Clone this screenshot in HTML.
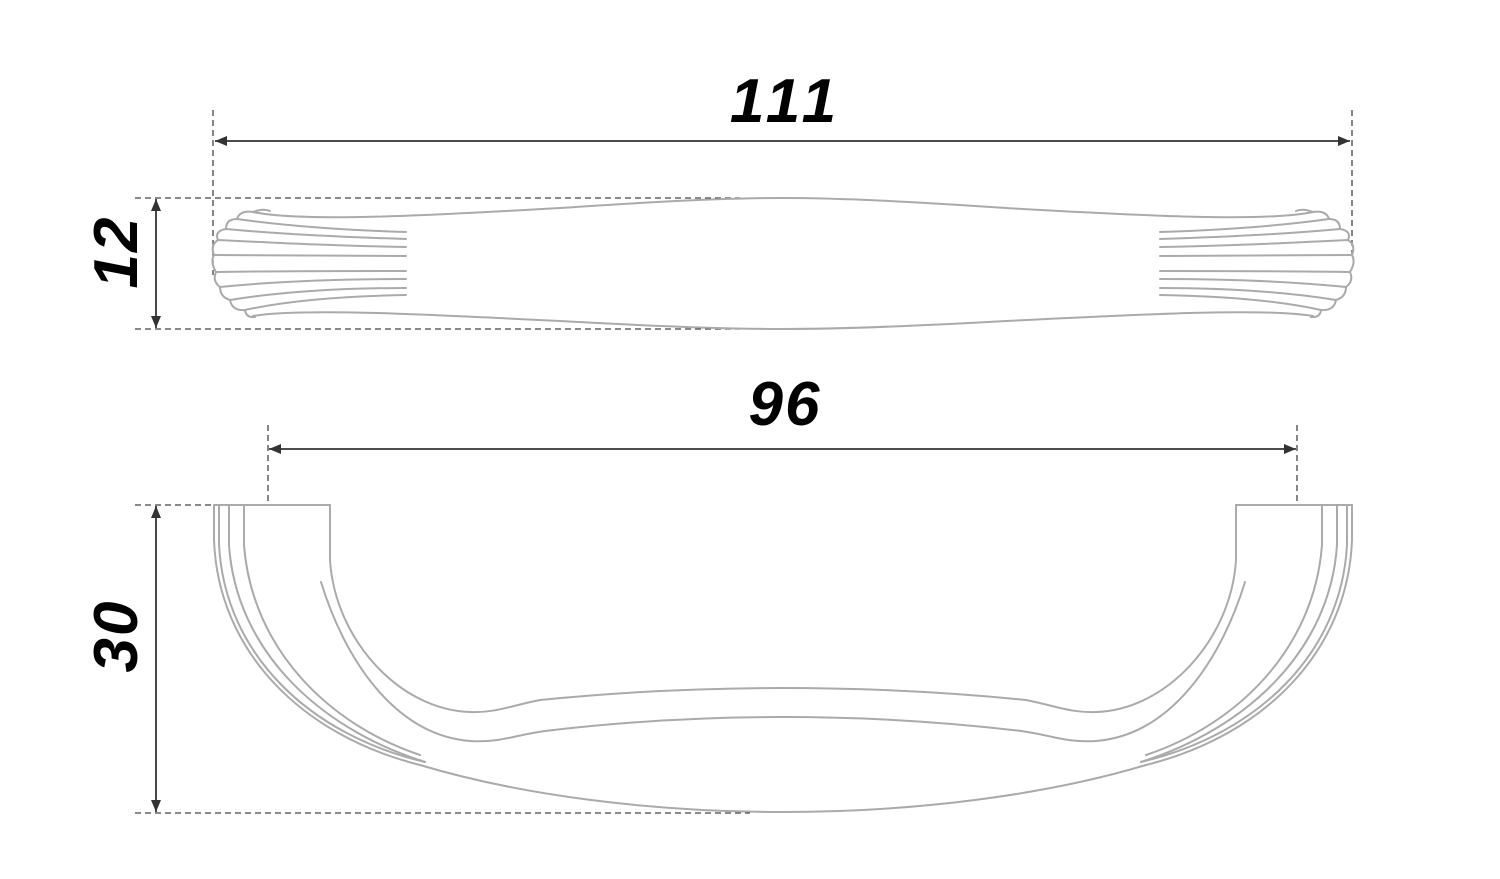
<!DOCTYPE html>
<html><head><meta charset="utf-8"><style>
html,body{margin:0;padding:0;background:#fff;width:1500px;height:879px;overflow:hidden}
text{font-family:"Liberation Sans",sans-serif;font-weight:bold;font-style:italic;fill:#000}
</style></head><body>
<svg width="1500" height="879" viewBox="0 0 1500 879" xmlns="http://www.w3.org/2000/svg">
<defs>
<marker id="a" viewBox="0 0 12 10" refX="12" refY="5" markerWidth="12" markerHeight="10" markerUnits="userSpaceOnUse" orient="auto-start-reverse"><path d="M0,0 L12,5 L0,10 z" fill="#333"/></marker>
</defs>
<g stroke="#444" stroke-width="1.3" stroke-dasharray="6,4" fill="none">
<line x1="213" y1="110" x2="213" y2="275"/>
<line x1="1352" y1="110" x2="1352" y2="260"/>
<line x1="135" y1="198" x2="740" y2="198"/>
<line x1="135" y1="329" x2="740" y2="329"/>
<line x1="268" y1="425" x2="268" y2="503"/>
<line x1="1297" y1="425" x2="1297" y2="503"/>
<line x1="135" y1="505" x2="214" y2="505"/>
<line x1="135" y1="813" x2="750" y2="813"/>
</g>
<g stroke="#333" stroke-width="1.8" fill="none">
<line x1="215" y1="141" x2="1350" y2="141" marker-start="url(#a)" marker-end="url(#a)"/>
<line x1="156" y1="199" x2="156" y2="328" marker-start="url(#a)" marker-end="url(#a)"/>
<line x1="269" y1="449" x2="1296" y2="449" marker-start="url(#a)" marker-end="url(#a)"/>
<line x1="156" y1="506" x2="156" y2="812" marker-start="url(#a)" marker-end="url(#a)"/>
</g>
<text x="786" y="122" font-size="62" text-anchor="middle" letter-spacing="6">111</text>
<text x="785" y="425" font-size="62" text-anchor="middle" letter-spacing="2">96</text>
<text transform="translate(137,252) rotate(-90)" font-size="62" text-anchor="middle" letter-spacing="2">12</text>
<text transform="translate(137,636) rotate(-90)" font-size="62" text-anchor="middle" letter-spacing="2">30</text>

<g stroke="#aaa" stroke-width="2" fill="none" stroke-linecap="round">
<path d="M253,212 C300,222 420,216 560,208 C650,202 720,198 783,198 C846,198 916,202 1006,208 C1146,216 1266,222 1313,212"/>
<path d="M253,316 C300,308 420,314 560,321 C650,326 720,329 783,329 C846,329 916,326 1006,321 C1146,314 1266,308 1313,316"/>
<g id="fan">
<path d="M253,212 Q263,208 270,211 M237,219 Q240,210 253,212 M226,229 Q226,219 237,219 M218,240 Q214,231 226,229 M214,255 Q210,245 218,240 M216,272 Q210,262 214,255 M220,287 Q212,281 216,272 M230,300 Q220,297 220,287 M245,310 Q232,311 230,300 M255,317 Q246,318 245,310"/>
<path d="M237,219 C280,225 340,230 406,232"/>
<path d="M226,229 C280,234 340,237 406,239"/>
<path d="M218,240 C280,243 340,246 406,247"/>
<path d="M214,255 C280,255 340,256 406,256"/>
<path d="M216,272 C280,271 340,271 406,271"/>
<path d="M220,287 C280,281 340,279 406,279"/>
<path d="M230,300 C280,292 340,288 406,288"/>
<path d="M245,310 C290,300 350,296 406,295"/>
</g>
<use href="#fan" transform="translate(1566,0) scale(-1,1)"/>
</g>

<g stroke="#aaa" stroke-width="2" fill="none" stroke-linecap="round">
<g id="half">
<path d="M214,505 L330,505"/>
<path d="M330,505 L330,560 C335,640 400,710 470,712 C495,713 510,706 540,700 C620,692 700,688 783,688"/>
<path d="M321,582 C345,660 395,735 470,741 C500,743 515,735 545,731 C620,722 700,717 783,717"/>
<path d="M214,505 L214,540 C218,650 300,735 420,765 C520,795 650,812 783,812"/>
<path d="M219,505 L219,545 C225,655 310,735 425,762"/>
<path d="M229,505 L229,545 C236,650 318,728 425,762"/>
<path d="M244,505 L244,545 C252,650 330,725 420,755"/>
</g>
<use href="#half" transform="translate(1566,0) scale(-1,1)"/>
</g>
</svg>
</body></html>
